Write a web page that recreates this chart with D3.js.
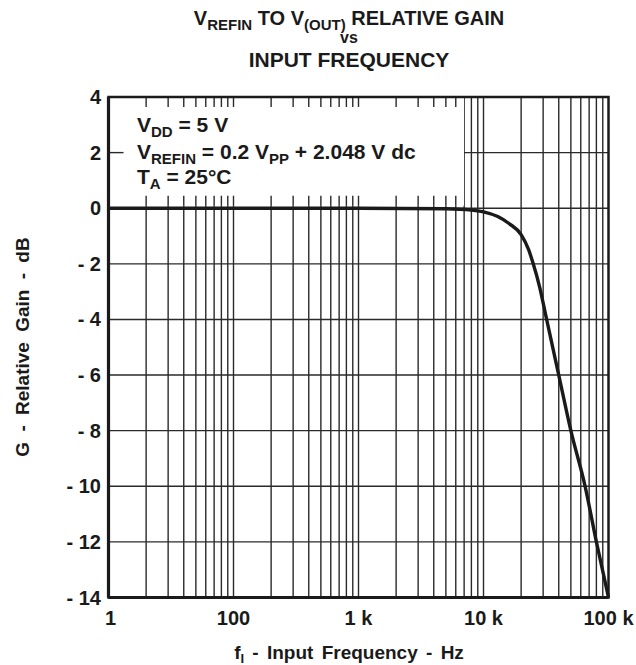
<!DOCTYPE html>
<html>
<head>
<meta charset="utf-8">
<script src="https://cdn.jsdelivr.net/npm/d3@7"></script>
<style>
  body { margin: 0; background: #fff; }
  svg { font-family: "Liberation Sans", Arial, sans-serif; font-weight: bold; }
</style>
</head>
<body>
<svg id="chart" width="636" height="665"></svg>
<script>
"use strict";

// curve
var freqs = [10, 1000, 5000, 8000, 10000, 13000, 16000, 20000, 23000, 25000, 28000, 32000, 40000, 50000, 65000, 80000, 100000];
var gains = [0, 0, -0.02, -0.07, -0.13, -0.3, -0.55, -0.95, -1.5, -2.0, -2.8, -4.0, -6.0, -8.0, -10.0, -12.0, -14.0];

var xTickValues = [10, 100, 1000, 10000, 100000];
var xTickLabels = ["1", "100", "1 k", "10 k", "100 k"];
var yTickValues = [4, 2, 0, -2, -4, -6, -8, -10, -12, -14];
var decades = [10, 100, 1000, 10000];
var multipliers = [1, 2, 3, 4, 5, 6, 7, 8, 9];

var margin = { left: 108.5, right: 608.5, top: 97, bottom: 597.5 };

var svg = d3.select("#chart");

var x = d3.scaleLog().domain([10, 100000]).range([margin.left, margin.right]);
var y = d3.scaleLinear().domain([4, -14]).range([margin.top, margin.bottom]);

var gridFreqs = [];
decades.forEach((d) => multipliers.forEach((m) => gridFreqs.push(d * m)));

var ink = "#1a1a1a",
  gridColor = "#2a2a2a";

// vertical grid
svg.append("g")
  .selectAll("line")
  .data(gridFreqs)
  .enter()
  .append("line")
  .attr("x1", (d) => x(d))
  .attr("x2", (d) => x(d))
  .attr("y1", margin.top)
  .attr("y2", margin.bottom)
  .attr("stroke", gridColor)
  .attr("stroke-width", 1.4);

// horizontal grid
svg.append("g")
  .selectAll("line")
  .data(yTickValues)
  .enter()
  .append("line")
  .attr("x1", margin.left)
  .attr("x2", margin.right)
  .attr("y1", (d) => y(d))
  .attr("y2", (d) => y(d))
  .attr("stroke", gridColor)
  .attr("stroke-width", 1.4);

// legend box blanks the grid, leaving short stubs
var boxRight = 464,
  boxTop = y(4),
  boxBottom = y(0) - 2.5,
  stub = 10;

svg.append("rect")
  .attr("x", margin.left)
  .attr("y", boxTop)
  .attr("width", boxRight - margin.left)
  .attr("height", boxBottom - boxTop)
  .attr("fill", "#fff");

var stubFreqs = gridFreqs.filter((d) => x(d) < boxRight && x(d) > margin.left + 1);
var stubs = svg.append("g").attr("stroke", gridColor).attr("stroke-width", 1.4);
stubs.selectAll(".top")
  .data(stubFreqs)
  .enter()
  .append("line")
  .attr("x1", (d) => x(d))
  .attr("x2", (d) => x(d))
  .attr("y1", boxTop)
  .attr("y2", boxTop + stub);
stubs.selectAll(".bot")
  .data(stubFreqs)
  .enter()
  .append("line")
  .attr("x1", (d) => x(d))
  .attr("x2", (d) => x(d))
  .attr("y1", boxBottom - stub)
  .attr("y2", boxBottom);
stubs.append("line")
  .attr("x1", margin.left)
  .attr("x2", margin.left + 15)
  .attr("y1", y(2))
  .attr("y2", y(2));

// text with subscripts: parts alternate normal / sub
function subText(sel, parts, subSize, shift) {
  var down = false;
  parts.forEach((p) => {
    var ts = sel.append("tspan").text(p.t);
    if (p.sub) {
      ts.attr("font-size", subSize).attr("dy", shift);
      down = true;
    } else if (down) {
      ts.attr("dy", -shift);
      down = false;
    }
  });
  return sel;
}

// conditions text
var cond = svg.append("g").attr("font-size", 21).attr("fill", ink);
subText(cond.append("text").attr("x", 137).attr("y", 132),
  [{ t: "V" }, { t: "DD", sub: true }, { t: " = 5 V" }], 15, 5);
subText(cond.append("text").attr("x", 137).attr("y", 159), [
  { t: "V" }, { t: "REFIN", sub: true }, { t: " = 0.2 V" }, { t: "PP", sub: true }, { t: " + 2.048 V dc" },
], 15, 5);
subText(cond.append("text").attr("x", 137).attr("y", 184),
  [{ t: "T" }, { t: "A", sub: true }, { t: " = 25\u00b0C" }], 15, 5);

// gain curve
var line = d3.line()
  .x((d) => x(d[0]))
  .y((d) => y(d[1]))
  .curve(d3.curveMonotoneX);

svg.append("path")
  .datum(freqs.map((f, i) => [f, gains[i]]))
  .attr("d", line)
  .attr("fill", "none")
  .attr("stroke", ink)
  .attr("stroke-width", 3.4);

// frame
svg.append("rect")
  .attr("x", margin.left)
  .attr("y", margin.top)
  .attr("width", margin.right - margin.left)
  .attr("height", margin.bottom - margin.top)
  .attr("fill", "none")
  .attr("stroke", ink)
  .attr("stroke-width", 2.5);
svg.append("line")
  .attr("x1", margin.left)
  .attr("x2", margin.left)
  .attr("y1", margin.top)
  .attr("y2", margin.bottom)
  .attr("stroke", ink)
  .attr("stroke-width", 3.2);
svg.append("line")
  .attr("x1", margin.left)
  .attr("x2", margin.right)
  .attr("y1", margin.bottom)
  .attr("y2", margin.bottom)
  .attr("stroke", ink)
  .attr("stroke-width", 3.2);

// tick labels
svg.append("g")
  .attr("font-size", 20)
  .attr("fill", ink)
  .attr("text-anchor", "end")
  .selectAll("text")
  .data(yTickValues)
  .enter()
  .append("text")
  .attr("x", 101)
  .attr("y", (d) => y(d) + 7)
  .text((d) => (d < 0 ? "- " + Math.abs(d) : d));

svg.append("g")
  .attr("font-size", 20)
  .attr("fill", ink)
  .attr("text-anchor", "middle")
  .selectAll("text")
  .data(xTickValues)
  .enter()
  .append("text")
  .attr("x", (d) => x(d) + (d === 10 ? 2 : 0))
  .attr("y", 625)
  .text((d, i) => xTickLabels[i]);

// axis titles
subText(
  svg.append("text")
    .attr("x", 349)
    .attr("y", 659)
    .attr("text-anchor", "middle")
    .attr("font-size", 19)
    .attr("word-spacing", 3)
    .attr("fill", ink),
  [{ t: "f" }, { t: "I", sub: true }, { t: " - Input Frequency - Hz" }], 13, 4
);

svg.append("text")
  .attr("transform", "translate(29,347) rotate(-90)")
  .attr("text-anchor", "middle")
  .attr("font-size", 19)
  .attr("word-spacing", 5)
  .attr("fill", ink)
  .text("G - Relative Gain - dB");

// chart title
subText(
  svg.append("text")
    .attr("x", 349)
    .attr("y", 25)
    .attr("text-anchor", "middle")
    .attr("font-size", 20)
    .attr("fill", ink),
  [{ t: "V" }, { t: "REFIN", sub: true }, { t: " TO V" }, { t: "(OUT)", sub: true }, { t: " RELATIVE GAIN" }],
  15, 5
);

svg.append("text")
  .attr("x", 349)
  .attr("y", 43)
  .attr("text-anchor", "middle")
  .attr("font-size", 16)
  .attr("fill", ink)
  .text("vs");

svg.append("text")
  .attr("x", 349)
  .attr("y", 67)
  .attr("text-anchor", "middle")
  .attr("font-size", 21)
  .attr("fill", ink)
  .text("INPUT FREQUENCY");
</script>
</body>
</html>
